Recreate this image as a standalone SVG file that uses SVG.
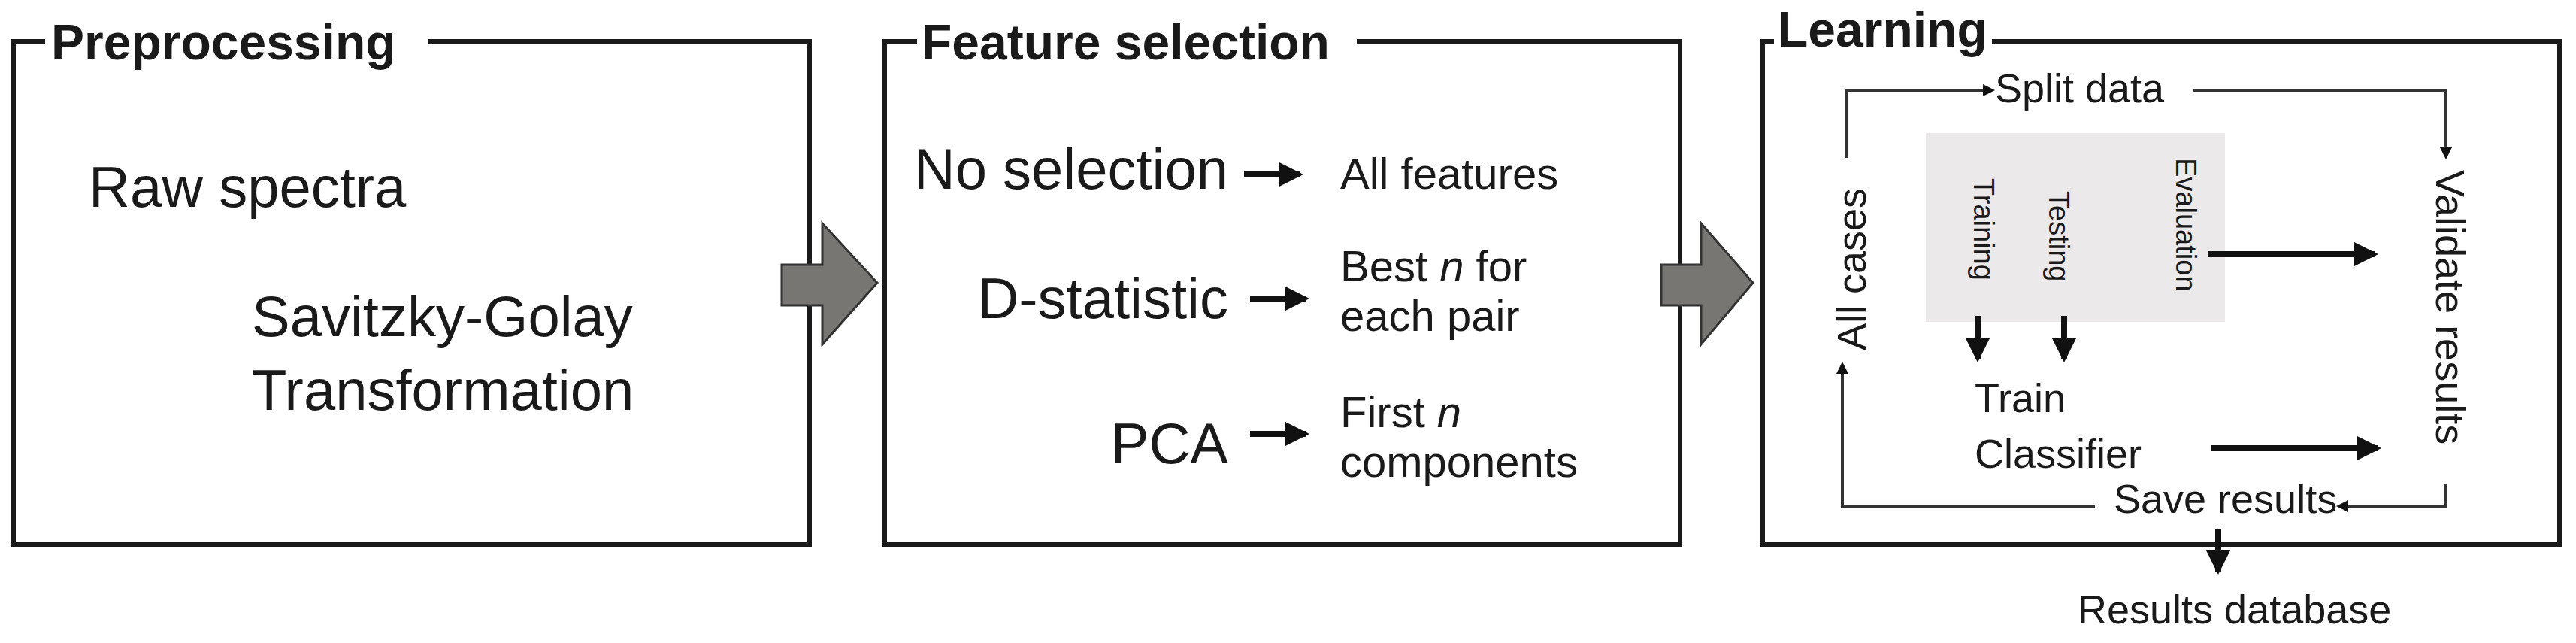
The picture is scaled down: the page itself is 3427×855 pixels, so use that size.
<svg xmlns="http://www.w3.org/2000/svg" width="3427" height="855" viewBox="0 0 3427 855">
<style>
text{font-family:"Liberation Sans",Arial,sans-serif;fill:#1a1a1a}
.t{font-weight:bold;font-size:66px}
.b{font-size:76px}
.m{font-size:58px}
.s{font-size:54px}
.r{font-size:38px}
.box{fill:none;stroke:#1a1a1a;stroke-width:6}
.big{fill:#787672;stroke:#333;stroke-width:3}
.ln{fill:none;stroke:#333;stroke-width:4}
.th{fill:none;stroke:#111;stroke-width:8}
</style>
<defs>
<marker id="sm" markerWidth="4" markerHeight="4" refX="3" refY="2" orient="auto"><path d="M0,0 L4,2 L0,4 z" fill="#111"/></marker>
<marker id="bh" markerWidth="4" markerHeight="4" refX="3.5" refY="2" orient="auto"><path d="M0,0 L4,2 L0,4 z" fill="#111"/></marker>
</defs>
<g id="preprocessing">
<path class="box" d="M60,55 H18 V724 H1077 V55 H570"/>
<text class="t" x="68" y="79">Preprocessing</text>
<text class="b" x="118" y="275">Raw spectra</text>
<text class="b" x="335" y="447">Savitzky-Golay</text>
<text class="b" x="335" y="545">Transformation</text>
</g>
<g id="arrow1"><path class="big" d="M1040,352 H1094 V297 L1167,376 L1094,458 V406 H1040 z"/></g>
<g id="feature-selection">
<path class="box" d="M1220,55 H1177 V724 H2235 V55 H1805"/>
<text class="t" x="1226" y="79">Feature selection</text>
<text class="b" x="1634" y="251" text-anchor="end">No selection</text>
<text class="b" x="1634" y="423" text-anchor="end">D-statistic</text>
<text class="b" x="1634" y="616" text-anchor="end">PCA</text>
<text class="m" x="1783" y="251">All features</text>
<text class="m" x="1783" y="374">Best <tspan font-style="italic">n</tspan> for</text>
<text class="m" x="1783" y="440">each pair</text>
<text class="m" x="1783" y="568">First <tspan font-style="italic">n</tspan></text>
<text class="m" x="1783" y="634">components</text>
</g>
<g id="arrow2"><path class="big" d="M2210,352 H2263 V297 L2332,376 L2263,458 V406 H2210 z"/></g>
<g id="learning">
<path class="box" d="M2360,55 H2345 V724 H3405 V55 H2650"/>
<text class="t" x="2365" y="62">Learning</text>
<rect x="2562" y="177" width="398" height="251" fill="#ece9ea"/>
<text class="s" x="2654" y="136">Split data</text>
<text class="s" transform="translate(2482,466) rotate(-90)">All cases</text>
<text class="r" transform="translate(2626,237) rotate(90)">Training</text>
<text class="r" transform="translate(2726,254) rotate(90)">Testing</text>
<text class="r" transform="translate(2895,210) rotate(90)">Evaluation</text>
<text class="s" transform="translate(3241,226) rotate(90)">Validate results</text>
<text class="s" x="2627" y="548">Train</text>
<text class="s" x="2627" y="622">Classifier</text>
<text class="s" x="2812" y="682">Save results</text>
<text class="s" x="2764" y="829">Results database</text>
</g>
<g id="connectors">
<path class="ln" d="M2457,210 V120 H2650" marker-end="url(#sm)"/>
<path class="ln" d="M2918,120 H3254 V208" marker-end="url(#sm)"/>
<path class="ln" d="M2787,673 H2451 V485" marker-end="url(#sm)"/>
<path class="ln" d="M3254,643 V673 H3112" marker-end="url(#sm)"/>
<path class="th" d="M2938,338 H3160" marker-end="url(#bh)"/>
<path class="th" d="M2942,596 H3164" marker-end="url(#bh)"/>
<path class="th" d="M2631,420 V478" marker-end="url(#bh)"/>
<path class="th" d="M2746,420 V478" marker-end="url(#bh)"/>
<path class="th" d="M2951,703 V760" marker-end="url(#bh)"/>
<path class="th" d="M1655,232 H1730" marker-end="url(#bh)"/>
<path class="th" d="M1663,397 H1738" marker-end="url(#bh)"/>
<path class="th" d="M1663,577 H1738" marker-end="url(#bh)"/>
</g>
</svg>
